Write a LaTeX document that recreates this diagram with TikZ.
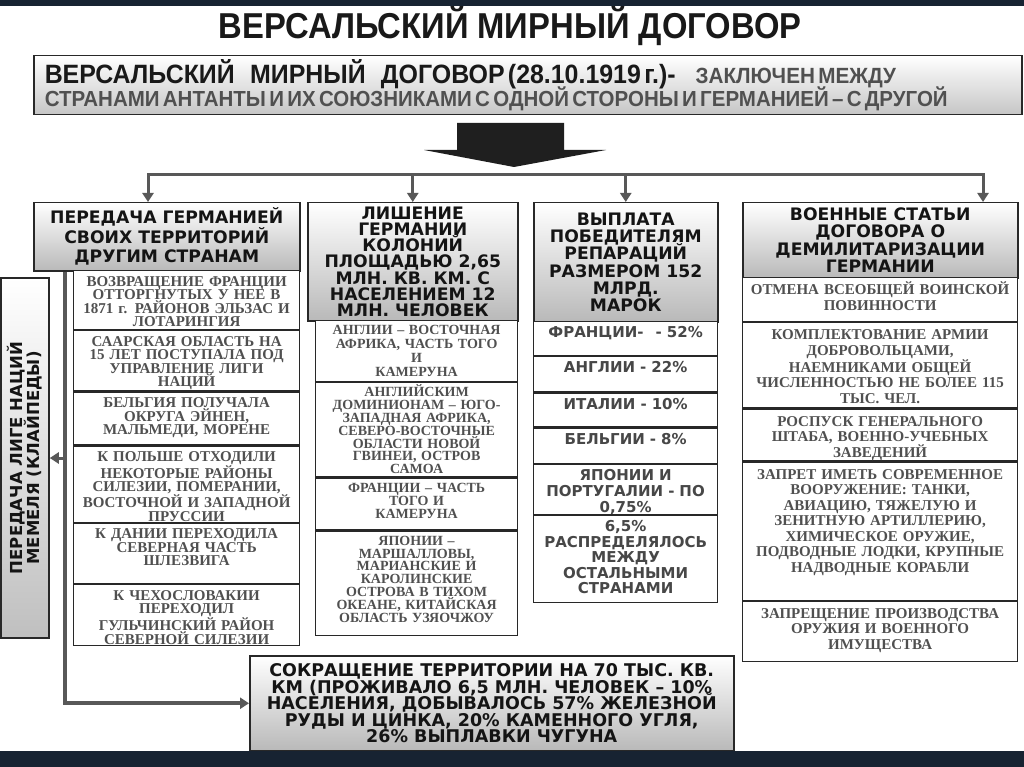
\documentclass[tikz,border=0pt]{standalone}
\usepackage{fontspec}
\usetikzlibrary{arrows.meta}
\setmainfont{Liberation Serif}
\newfontfamily\headfont{DejaVu Sans}
\newfontfamily\titlefont[FakeStretch=0.91]{Liberation Sans}
\newfontfamily\sumfont[FakeStretch=0.94]{Liberation Sans}
\newfontfamily\cellfont{Liberation Serif}
\lineskiplimit=-50pt
\definecolor{navy}{RGB}{23,35,50}
\definecolor{framecol}{RGB}{40,40,40}
\definecolor{linkcol}{RGB}{88,88,88}
\definecolor{celltext}{RGB}{80,80,80}
\tikzset{
  headbox/.style={draw=framecol, line width=1.5pt, top color=white, bottom color=gray!55,
    anchor=north west, align=center, inner sep=0pt, text=black!92,
    font=\headfont\bfseries\fontsize{17.2pt}{#1}\selectfont},
  headbox/.default=18pt,
  cell/.style={draw=framecol, line width=1.2pt, fill=white, anchor=north west, align=center,
    inner xsep=2pt, inner ysep=0pt, text=celltext,
    font=\cellfont\bfseries\fontsize{15pt}{#1}\selectfont},
  cell/.default=13.5pt,
  cellA/.style={cell=#1, text width=222pt, text height=15.5pt},
  cellA/.default=13.5pt,
  cellB/.style={cell=#1, text width=198pt, text height=14pt,
    font=\cellfont\bfseries\fontsize{14pt}{#1}\selectfont},
  cellB/.default=13pt,
  cellC/.style={cell, text width=180pt, text height=16pt, text=black!72,
    font=\headfont\bfseries\fontsize{15pt}{#1}\selectfont},
  cellC/.default=16.2pt,
  cellD/.style={cell=#1, text width=271pt, text height=17pt},
  cellD/.default=15.5pt,
  link/.style={draw=linkcol, line width=3pt, -{Triangle[length=9pt,width=11pt]}},
}
\begin{document}
\begin{tikzpicture}[x=1pt,y=-1pt]
\useasboundingbox (0,0) rectangle (1024,767);
\fill[white] (0,0) rectangle (1024,767);

\node[font=\titlefont\bfseries\fontsize{36pt}{36pt}\selectfont, text=black!90] (title) at (510,26) {ВЕРСАЛЬСКИЙ МИРНЫЙ ДОГОВОР};

\node[anchor=north west, draw=framecol, line width=1.5pt, top color=white, bottom color=gray!45,
  minimum width=988pt, minimum height=59pt, text width=966pt, inner xsep=11pt, inner ysep=0pt,
  align=left, font=\sumfont\bfseries, text=black!90] (sum) at (33,55)
  {{\fontsize{26.5pt}{26pt}\selectfont ВЕРСАЛЬСКИЙ\hspace{12pt} МИРНЫЙ\hspace{12pt} ДОГОВОР (28.10.1919 г.)-}\hspace{20pt}{\color{celltext}\fontsize{22pt}{22pt}\selectfont ЗАКЛЮЧЕН МЕЖДУ}\\[-4pt]
  {\color{celltext}\fontsize{21.8pt}{22pt}\selectfont СТРАНАМИ АНТАНТЫ И ИХ СОЮЗНИКАМИ С ОДНОЙ СТОРОНЫ И ГЕРМАНИЕЙ – С ДРУГОЙ}};

\coordinate (arrtip) at (514,167);
\fill[black!88] (457,123) -- (564,123) -- (564,150) -- (606,150) -- (arrtip) -- (424,150) -- (457,150) -- cycle;

\node[headbox=19.5pt, minimum width=266pt, minimum height=68pt] (hA) at (33,202)
  {ПЕРЕДАЧА ГЕРМАНИЕЙ\\ СВОИХ ТЕРРИТОРИЙ\\ ДРУГИМ СТРАНАМ};
\node[headbox=16.2pt, minimum width=210pt, minimum height=118pt] (hB) at (307,202)
  {ЛИШЕНИЕ\\ ГЕРМАНИИ\\ КОЛОНИЙ\\ ПЛОЩАДЬЮ 2,65\\ МЛН. КВ. КМ. С\\ НАСЕЛЕНИЕМ 12\\ МЛН. ЧЕЛОВЕК};
\node[headbox=17.3pt, minimum width=184pt, minimum height=119pt] (hC) at (533,202)
  {ВЫПЛАТА\\ ПОБЕДИТЕЛЯМ\\ РЕПАРАЦИЙ\\ РАЗМЕРОМ 152\\ МЛРД.\\ МАРОК};
\node[headbox=17.3pt, minimum width=275pt, minimum height=75pt] (hD) at (742,202)
  {ВОЕННЫЕ СТАТЬИ\\ ДОГОВОРА О\\ ДЕМИЛИТАРИЗАЦИИ\\ ГЕРМАНИИ};

\coordinate (b1) at (148,175);
\coordinate (b4) at (983,175);
\draw[link] (hB.north |- b1) -| (b1 |- hA.north);
\draw[link] (hB.north |- b1) -| (b4 |- hD.north);
\draw[link] (hB.north |- b1) -- (hB.north);
\draw[link] (hC.north |- b1) -- (hC.north);

\node[cellA, text depth=43.5pt] (a1) at (73,270) {ВОЗВРАЩЕНИЕ ФРАНЦИИ\\ ОТТОРГНУТЫХ У НЕЕ В\\ 1871 г. РАЙОНОВ ЭЛЬЗАС И\\ ЛОТАРИНГИЯ};
\node[cellA, text depth=44.5pt] (a2) at (a1.south west) {СААРСКАЯ ОБЛАСТЬ НА\\ 15 ЛЕТ ПОСТУПАЛА ПОД\\ УПРАВЛЕНИЕ ЛИГИ\\ НАЦИЙ};
\node[cellA, text depth=37.5pt] (a3) at (a2.south west) {БЕЛЬГИЯ ПОЛУЧАЛА\\ ОКРУГА ЭЙНЕН,\\ МАЛЬМЕДИ, МОРЕНЕ};
\node[cellA=13pt, text depth=60.5pt] (a4) at (a3.south west) {К ПОЛЬШЕ ОТХОДИЛИ\\ НЕКОТОРЫЕ РАЙОНЫ\\ СИЛЕЗИИ, ПОМЕРАНИИ,\\ ВОСТОЧНОЙ И ЗАПАДНОЙ\\ ПРУССИИ};
\node[cellA, text depth=44.5pt] (a5) at (a4.south west) {К ДАНИИ ПЕРЕХОДИЛА\\ СЕВЕРНАЯ ЧАСТЬ\\ ШЛЕЗВИГА};
\node[cellA, text depth=45.5pt] (a6) at (a5.south west) {К ЧЕХОСЛОВАКИИ\\ ПЕРЕХОДИЛ\\ ГУЛЬЧИНСКИЙ РАЙОН\\ СЕВЕРНОЙ СИЛЕЗИИ};

\node[cellB=14pt, text depth=47pt] (k1) at (315,320) {АНГЛИИ – ВОСТОЧНАЯ\\ АФРИКА, ЧАСТЬ ТОГО\\ И\\ КАМЕРУНА};
\node[cellB=12.8pt, text depth=80pt] (k2) at (k1.south west) {АНГЛИЙСКИМ\\ ДОМИНИОНАМ – ЮГО-\\ ЗАПАДНАЯ АФРИКА,\\ СЕВЕРО-ВОСТОЧНЫЕ\\ ОБЛАСТИ НОВОЙ\\ ГВИНЕИ, ОСТРОВ\\ САМОА};
\node[cellB=13.3pt, text depth=38pt] (k3) at (k2.south west) {ФРАНЦИИ – ЧАСТЬ\\ ТОГО И\\ КАМЕРУНА};
\node[cellB=12.8pt, text depth=90pt] (k4) at (k3.south west) {ЯПОНИИ –\\ МАРШАЛЛОВЫ,\\ МАРИАНСКИЕ И\\ КАРОЛИНСКИЕ\\ ОСТРОВА В ТИХОМ\\ ОКЕАНЕ, КИТАЙСКАЯ\\ ОБЛАСТЬ УЗЯОЧЖОУ};

\node[cellC, text depth=18pt] (p1) at (533,321) {ФРАНЦИИ-\hspace{12pt}- 52\%};
\node[cellC, text depth=19pt] (p2) at (p1.south west) {АНГЛИИ - 22\%};
\node[cellC, text depth=18pt] (p3) at (p2.south west) {ИТАЛИИ - 10\%};
\node[cellC, text depth=19pt] (p4) at (p3.south west) {БЕЛЬГИИ - 8\%};
\node[cellC=15.8pt, text depth=34pt] (p5) at (p4.south west) {ЯПОНИИ И\\ ПОРТУГАЛИИ - ПО\\ 0,75\%};
\node[cellC=15.5pt, text depth=71pt] (p6) at (p5.south west) {6,5\%\\ РАСПРЕДЕЛЯЛОСЬ\\ МЕЖДУ\\ ОСТАЛЬНЫМИ\\ СТРАНАМИ};

\node[cellD, text depth=27pt] (m1) at (742,277) {ОТМЕНА ВСЕОБЩЕЙ ВОИНСКОЙ\\ ПОВИННОСТИ};
\node[cellD, text depth=68pt] (m2) at (m1.south west) {КОМПЛЕКТОВАНИЕ АРМИИ\\ ДОБРОВОЛЬЦАМИ,\\ НАЕМНИКАМИ ОБЩЕЙ\\ ЧИСЛЕННОСТЬЮ НЕ БОЛЕЕ 115\\ ТЫС. ЧЕЛ.};
\node[cellD, text depth=35pt] (m3) at (m2.south west) {РОСПУСК ГЕНЕРАЛЬНОГО\\ ШТАБА, ВОЕННО-УЧЕБНЫХ\\ ЗАВЕДЕНИЙ};
\node[cellD, text depth=121pt] (m4) at (m3.south west) {ЗАПРЕТ ИМЕТЬ СОВРЕМЕННОЕ\\ ВООРУЖЕНИЕ: ТАНКИ,\\ АВИАЦИЮ, ТЯЖЕЛУЮ И\\ ЗЕНИТНУЮ АРТИЛЛЕРИЮ,\\ ХИМИЧЕСКОЕ ОРУЖИЕ,\\ ПОДВОДНЫЕ ЛОДКИ, КРУПНЫЕ\\ НАДВОДНЫЕ КОРАБЛИ};
\node[cellD, text depth=43pt] (m5) at (m4.south west) {ЗАПРЕЩЕНИЕ ПРОИЗВОДСТВА\\ ОРУЖИЯ И ВОЕННОГО\\ ИМУЩЕСТВА};

\node[draw=framecol, line width=1.5pt, rotate=90, top color=white, bottom color=gray!50,
  minimum width=360pt, minimum height=48pt, align=center, inner sep=0pt, text=black!92,
  font=\headfont\bfseries\fontsize{16.5pt}{17pt}\selectfont] (memel) at (25,458)
  {ПЕРЕДАЧА ЛИГЕ НАЦИЙ\\ МЕМЕЛЯ (КЛАЙПЕДЫ)};

\node[headbox, minimum width=484pt, minimum height=95pt, font=\headfont\bfseries\fontsize{17.5pt}{16.5pt}\selectfont] (red) at (249,655)
  {СОКРАЩЕНИЕ ТЕРРИТОРИИ НА 70 ТЫС. КВ.\\ КМ (ПРОЖИВАЛО 6,5 МЛН. ЧЕЛОВЕК – 10\%\\ НАСЕЛЕНИЯ, ДОБЫВАЛОСЬ 57\% ЖЕЛЕЗНОЙ\\ РУДЫ И ЦИНКА, 20\% КАМЕННОГО УГЛЯ,\\ 26\% ВЫПЛАВКИ ЧУГУНА};

\coordinate (spine) at (65,0);
\draw[link, line width=4pt] (spine |- hA.south) -- (spine |- red.west) -- (red.west);
\draw[link] (spine |- memel.south) -- (memel.south);

\fill[navy] (0,0) rectangle (1024,6);
\fill[navy] (0,751) rectangle (1024,767);
\end{tikzpicture}
\end{document}
